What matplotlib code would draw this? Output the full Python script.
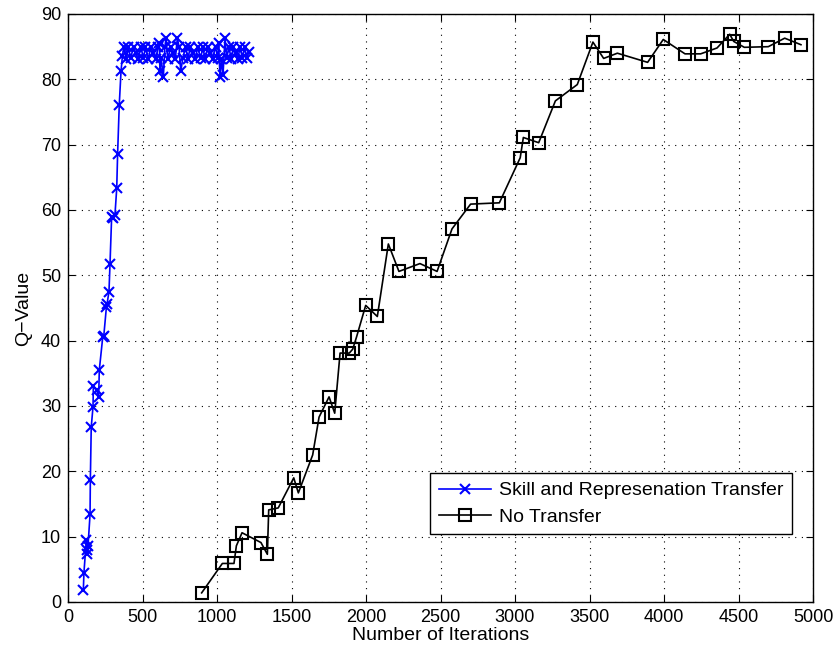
import numpy as np
import matplotlib
matplotlib.use("Agg")
import matplotlib.pyplot as plt

plt.rcParams['font.family'] = ['Liberation Sans', 'DejaVu Sans']

# skill + representation transfer run (blue)
transfer_x = [103, 107, 123, 130, 125, 134, 148, 150, 156, 168, 170, 193, 206, 210, 233, 240,
              258, 262, 275, 282, 293, 300, 315, 327, 333, 344, 356,
              365, 375, 390, 405, 420, 440, 455, 470, 490, 505,
              520, 540, 555, 570, 590, 605, 613, 617, 625, 640,
              650, 658, 670, 690, 705, 720, 734, 745, 757, 770,
              790, 805, 820, 840, 855, 870, 890, 905, 920, 940,
              955, 970, 990, 1005, 1011, 1020, 1030, 1040, 1054, 1065,
              1080, 1095, 1110, 1125, 1140, 1155, 1170, 1185, 1200, 1215]
transfer_q = [1.8, 4.5, 9.5, 7.4, 8.0, 8.5, 13.4, 18.7, 26.8, 29.9, 33.0, 32.4, 31.4, 35.5, 40.5, 40.7,
              45.2, 45.6, 47.5, 51.8, 59.0, 58.7, 59.2, 63.3, 68.6, 76.1, 81.3,
              83.5, 85.0, 83.1, 84.9, 83.2, 85.0, 84.0, 83.1, 85.0, 83.2,
              84.9, 83.1, 85.0, 84.1, 83.1, 85.0, 85.5, 81.2, 83.2, 80.4,
              84.9, 86.3, 83.1, 85.0, 84.0, 83.1, 86.3, 85.0, 81.2, 83.2,
              85.0, 83.1, 84.9, 84.1, 83.1, 85.0, 83.2, 84.9, 83.1, 85.0,
              84.0, 83.1, 85.0, 83.2, 85.5, 80.4, 83.1, 80.6, 86.3, 83.2,
              85.0, 83.1, 84.9, 84.0, 83.1, 85.0, 83.2, 84.9, 83.3, 84.2]

# baseline run without transfer (black)
notransfer_x = [897, 1036, 1114, 1130, 1168, 1295, 1338, 1347, 1411, 1515, 1546, 1642, 1685,
                1752, 1790, 1826, 1888, 1911, 1937, 1998, 2076, 2150, 2221, 2362, 2477, 2577,
                2702, 2895, 3035, 3056, 3159, 3271, 3418, 3523, 3595, 3687, 3890, 3995, 4141,
                4246, 4356, 4441, 4468, 4539, 4700, 4810, 4919]
notransfer_q = [1.4, 5.9, 5.9, 8.6, 10.6, 9.1, 7.3, 14.1, 14.4, 19.0, 16.7, 22.5, 28.3,
                31.4, 28.9, 38.1, 38.1, 38.7, 40.6, 45.4, 43.7, 54.8, 50.6, 51.8, 50.6, 57.1,
                60.9, 61.1, 68.0, 71.1, 70.3, 76.7, 79.2, 85.7, 83.2, 84.0, 82.6, 86.1, 83.9,
                83.9, 84.8, 86.9, 85.8, 84.9, 85.0, 86.3, 85.3]

fig = plt.figure(figsize=(8.38, 6.52), dpi=100)
ax = fig.add_axes([68/838, 50/652, 745/838, 588/652])

ax.plot(transfer_x, transfer_q, color='#0000ff', lw=1.2, marker='x', ms=7, mew=1.5,
        label='Skill and Represenation Transfer')
ax.plot(notransfer_x, notransfer_q, color='k', lw=1.2, marker='s', ms=8.5, mew=1.5,
        mfc='none', label='No Transfer')

ax.set_xlim(0, 5000)
ax.set_ylim(0, 90)
ax.set_xticks(np.arange(0, 5001, 500))
ax.set_yticks(np.arange(0, 91, 10))
ax.grid(True, color='k', linestyle=(0, (1, 5)), linewidth=0.8)
ax.tick_params(direction='in', length=5, top=True, right=True, labelsize=13, pad=5)
for s in ax.spines.values():
    s.set_linewidth(1.0)

ax.set_xlabel('Number of Iterations', fontsize=14, labelpad=1)
ax.set_ylabel('Q\u2212Value', fontsize=14, labelpad=6)

leg = ax.legend(loc='upper left', bbox_to_anchor=(430/838, (652-473)/652),
                bbox_transform=fig.transFigure, fontsize=14, handlelength=2.7,
                fancybox=False, framealpha=1, edgecolor='k', borderpad=0.45,
                borderaxespad=0, labelspacing=0.45, handletextpad=0.4)
leg.get_frame().set_linewidth(1.0)

fig.savefig('out.png', dpi=100)
